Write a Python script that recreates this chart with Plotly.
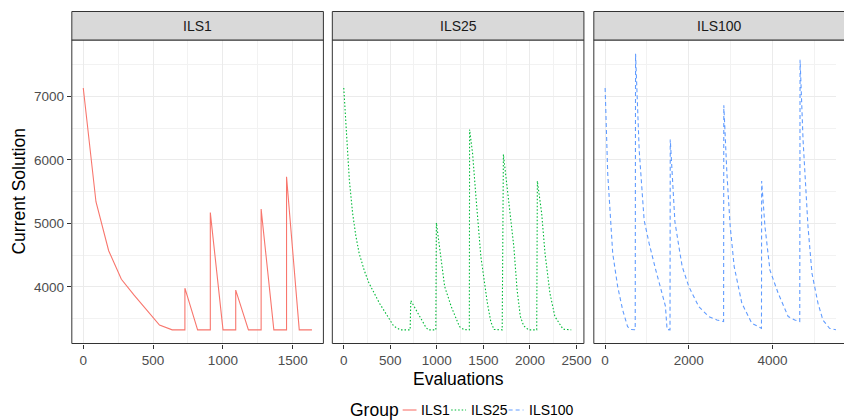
import plotly.graph_objects as go

# ---------------- data ----------------
ils1_x = [0, 91, 182, 273, 364, 455, 546, 637, 728, 728, 819, 910, 910, 1001, 1092, 1092,
          1183, 1274, 1274, 1365, 1456, 1456, 1547, 1638]
ils1_y = [7130, 5340, 4570, 4120, 3870, 3640, 3400, 3325, 3325, 3980, 3325, 3325, 5170, 3325,
          3325, 3950, 3325, 3325, 5225, 3325, 3325, 5733, 3325, 3325]

ils25_x = [0, 24, 60, 95, 130, 165, 220, 271, 330, 383, 483, 536, 607, 713,
           720, 760, 800, 854, 880, 907, 989,
           995, 1031, 1084, 1155, 1200, 1243, 1290, 1349,
           1352, 1384, 1420, 1473, 1543, 1580, 1614, 1702,
           1715, 1774, 1827, 1862, 1897, 1932, 1985, 2073,
           2080, 2126, 2162, 2215, 2268, 2356, 2444]
ils25_y = [7130, 6520, 5680, 5160, 4800, 4530, 4260, 4060, 3890, 3745, 3510, 3385, 3325, 3325,
           3785, 3680, 3590, 3455, 3370, 3325, 3325,
           5010, 4635, 4005, 3690, 3520, 3375, 3330, 3325,
           6475, 6100, 5420, 4475, 3745, 3450, 3330, 3325,
           6085, 5365, 4635, 3955, 3535, 3390, 3325, 3325,
           5665, 5160, 4530, 3900, 3535, 3335, 3325]

ils100_x = [0, 62, 181, 300, 418, 537, 620, 719,
            727, 814, 932, 1051, 1210, 1367, 1440, 1480, 1550,
            1556, 1603, 1667, 1762, 1841, 2000, 2237, 2474, 2671, 2830,
            2835, 2909, 2988, 3083, 3265, 3502, 3700, 3735,
            3739, 3818, 3937, 4134, 4372, 4530, 4649,
            4657, 4728, 4846, 4941, 5084, 5202, 5360, 5518, 5560]
ils100_y = [7130, 5785, 4530, 4005, 3640, 3375, 3330, 3325,
            7670, 6150, 5050, 4685, 4265, 3900, 3700, 3330, 3325,
            6320, 5785, 5025, 4635, 4320, 4005, 3690, 3535, 3480, 3455,
            6860, 5785, 4950, 4320, 3745, 3430, 3360, 3350,
            5665, 4950, 4265, 3900, 3535, 3480, 3455,
            7575, 6310, 4950, 4215, 3745, 3480, 3350, 3325, 3325]

groups = ["ILS1", "ILS25", "ILS100"]
colors = ["#F8766D", "#00BA38", "#619CFF"]
y_ticks = [4000, 5000, 6000, 7000]

# ---------------- layout geometry ----------------
W, H = 844, 420
FONT = "Liberation Sans, Arial, sans-serif"
panels_px = [(72.5, 326.5), (335.5, 589.5), (599.5, 854.0)]
top_px, bot_px, strip_top_px = 40, 343.5, 11.5
ydom = [(H - bot_px) / H, (H - top_px) / H]
xranges = [[-82, 1720], [-123, 2580], [-270, 5515]]
xdticks = [500, 500, 2000]
dashes = ["solid", "1.5px,2px", "4px,3px"]

fig = go.Figure()
data = [(ils1_x, ils1_y), (ils25_x, ils25_y), (ils100_x, ils100_y)]
for i, (g, c, (xs, ys), d) in enumerate(zip(groups, colors, data, dashes)):
    sfx = "" if i == 0 else str(i + 1)
    fig.add_trace(go.Scatter(x=xs, y=ys, mode="lines", name=g, showlegend=False,
                             line=dict(color=c, width=1.1, dash=d),
                             xaxis="x" + sfx, yaxis="y" + sfx))

layout = dict(width=W, height=H, margin=dict(l=0, r=0, t=0, b=0),
              paper_bgcolor="white", plot_bgcolor="white",
              font=dict(family=FONT, color="#4D4D4D"), showlegend=False)

for i in range(3):
    sfx = "" if i == 0 else str(i + 1)
    x0, x1 = panels_px[i]
    layout["xaxis" + sfx] = dict(
        domain=[x0 / W, min(x1 / W, 1.0)], range=xranges[i], anchor="y" + sfx,
        dtick=xdticks[i], tick0=0, showgrid=True, gridcolor="#EBEBEB", gridwidth=1.1,
        minor=dict(dtick=xdticks[i] / 2, tick0=0, showgrid=True, gridcolor="#F2F2F2", gridwidth=1),
        ticks="outside", ticklen=4, tickcolor="#333333", tickwidth=1,
        tickfont=dict(size=13.5, color="#4D4D4D", family=FONT),
        showline=False, zeroline=False, fixedrange=True)
    layout["yaxis" + sfx] = dict(
        domain=ydom, range=[3110, 7885], anchor="x" + sfx,
        tickvals=y_ticks, showgrid=True, gridcolor="#EBEBEB", gridwidth=1.1,
        minor=dict(dtick=500, tick0=3500, showgrid=True, gridcolor="#F2F2F2", gridwidth=1),
        ticks="outside" if i == 0 else "", ticklen=4, tickcolor="#333333", tickwidth=1,
        showticklabels=(i == 0),
        tickfont=dict(size=13.5, color="#4D4D4D", family=FONT),
        showline=False, zeroline=False, fixedrange=True)

shapes = []
annotations = []
for i, g in enumerate(groups):
    x0, x1 = panels_px[i]
    shapes.append(dict(type="rect", xref="paper", yref="paper",
                       x0=x0 / W, x1=x1 / W, y0=ydom[0], y1=ydom[1],
                       line=dict(color="#333333", width=1), fillcolor="rgba(0,0,0,0)", layer="above"))
    shapes.append(dict(type="rect", xref="paper", yref="paper",
                       x0=x0 / W, x1=x1 / W, y0=(H - top_px) / H, y1=(H - strip_top_px) / H,
                       line=dict(color="#333333", width=1), fillcolor="#D9D9D9", layer="above"))
    annotations.append(dict(text=g, xref="paper", yref="paper", x=(x0 + x1) / 2 / W,
                            y=(H - (top_px + strip_top_px) / 2) / H, showarrow=False,
                            xanchor="center", yanchor="middle",
                            font=dict(size=14, color="#1A1A1A", family=FONT)))

annotations.append(dict(text="Evaluations", xref="paper", yref="paper", x=463 / W, y=(H - 379) / H,
                        showarrow=False, xanchor="center", yanchor="middle",
                        font=dict(size=17.5, color="black", family=FONT)))
annotations.append(dict(text="Current Solution", xref="paper", yref="paper", x=19 / W,
                        y=(H - (top_px + bot_px) / 2) / H, showarrow=False, textangle=-90,
                        xanchor="center", yanchor="middle",
                        font=dict(size=17.5, color="black", family=FONT)))

# ---------------- legend (drawn manually, ggplot style) ----------------
leg_y = (H - 410) / H
annotations.append(dict(text="Group", xref="paper", yref="paper", x=351 / W, y=leg_y,
                        showarrow=False, xanchor="left", yanchor="middle",
                        font=dict(size=17.5, color="black", family=FONT)))
key_px = [(406.5, 420.5, 423), (455.5, 470.5, 473), (513.5, 528.5, 532)]
for (k0, k1, tx), g, c, d in zip(key_px, groups, colors, dashes):
    shapes.append(dict(type="line", xref="paper", yref="paper", x0=k0 / W, x1=k1 / W,
                       y0=leg_y, y1=leg_y, line=dict(color=c, width=1.1, dash=d)))
    annotations.append(dict(text=g, xref="paper", yref="paper", x=tx / W, y=leg_y,
                            showarrow=False, xanchor="left", yanchor="middle",
                            font=dict(size=14, color="black", family=FONT)))

layout["shapes"] = shapes
layout["annotations"] = annotations

fig.update_layout(**layout)
fig.write_html("out.html")
